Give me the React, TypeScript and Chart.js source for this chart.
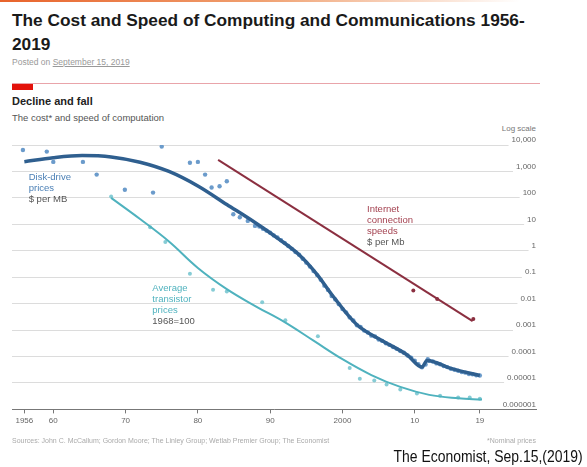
import React, { useEffect, useRef } from "react";
import { Chart, registerables } from "chart.js";

Chart.register(...registerables);

// ---------- data (y values as powers of ten) ----------
const tickYears = [1956, 1960, 1970, 1980, 1990, 2000, 2010, 2019];
const tickYearLabels = ["1956", "60", "70", "80", "90", "2000", "10", "19"];

const logTickValues = [1e-6, 1e-5, 1e-4, 1e-3, 1e-2, 1e-1, 1, 10, 100, 1000, 10000];
const logTickLabels = ["0.000001", "0.00001", "0.0001", "0.001", "0.01", "0.1", "1", "10", "100", "1,000", "10,000"];

// Disk-drive prices, $ per MB — fitted curve [year, log10 value]
const diskFit: [number, number][] = [
  [1956, 3.37], [1960, 3.52], [1964, 3.6], [1968, 3.55], [1972, 3.35], [1976, 3.0],
  [1980, 2.45], [1984, 1.75], [1988, 1.05], [1991, 0.48], [1994, -0.15], [1996.5, -0.9],
  [1998.7, -1.72], [2002, -2.8], [2005.5, -3.4], [2009, -3.95], [2011, -4.4],
  [2011.7, -4.15], [2015, -4.45], [2019, -4.72],
];

// Disk-drive prices — observations [year, log10 value]
const diskObs: [number, number][] = [
  [1955.8, 3.81], [1959.1, 3.75], [1960, 3.36], [1964.1, 3.36], [1966, 2.88], [1969.9, 2.31],
  [1973.8, 2.2], [1975, 3.94], [1978.9, 3.33], [1980, 3.36], [1981, 2.88], [1981.9, 2.39],
  [1983, 2.44], [1984, 2.63], [1984.9, 1.38], [1985.8, 1.27], [1986.9, 1.13], [1987.9, 0.94],
  [1988.5, 0.92], [1989, 0.83], [1989.5, 0.76], [1990, 0.68], [1990.5, 0.58], [1991, 0.5],
  [1991.5, 0.4], [1992, 0.3], [1992.5, 0.18], [1993, 0.07], [1993.5, -0.05], [1994, -0.15],
  [1994.5, -0.3], [1995, -0.45], [1995.5, -0.6], [1996, -0.77], [1996.5, -0.92], [1997, -1.1],
  [1997.5, -1.32], [1998, -1.48], [1998.5, -1.71], [1999, -1.84], [1999.5, -2.02], [2000, -2.2],
  [2000.5, -2.33], [2001, -2.52], [2001.5, -2.64], [2002, -2.82], [2002.5, -2.88], [2003, -3.02],
  [2003.5, -3.09], [2004, -3.21], [2004.5, -3.24], [2005, -3.36], [2005.5, -3.41], [2006, -3.5],
  [2006.5, -3.56], [2007, -3.64], [2007.5, -3.71], [2008, -3.79], [2008.5, -3.86], [2009, -3.96],
  [2009.5, -4.04], [2010, -4.16], [2010.5, -4.29], [2011, -4.41], [2011.5, -4.3], [2011.8, -4.1],
  [2012, -4.16], [2012.5, -4.19], [2013, -4.26], [2013.5, -4.29], [2014, -4.36], [2014.5, -4.4],
  [2015, -4.46], [2015.5, -4.5], [2016, -4.54], [2016.5, -4.59], [2017, -4.61], [2017.5, -4.66],
  [2018, -4.67], [2018.5, -4.71], [2019, -4.72],
];

// Average transistor prices, 1968=100 — fitted curve
const transistorFit: [number, number][] = [
  [1968, 2.0], [1972, 1.2], [1976, 0.35], [1980, -0.65], [1984, -1.45], [1988, -2.1],
  [1992, -2.7], [1996, -3.4], [2000, -4.1], [2004, -4.7], [2008, -5.15], [2012, -5.45],
  [2016, -5.58], [2019.3, -5.63],
];

// Average transistor prices — observations
const transistorObs: [number, number][] = [
  [1968, 2.05], [1973.4, 0.89], [1975.5, 0.33], [1978.9, -0.87], [1982.1, -1.47], [1984, -1.54],
  [1988.9, -1.95], [1992.1, -2.63], [1996.6, -3.23], [2001, -4.43], [2002.4, -4.84],
  [2004.4, -4.91], [2006.1, -5.06], [2008, -5.25], [2010.3, -5.4], [2013.5, -5.48],
  [2016, -5.55], [2017.6, -5.55], [2019, -5.6],
];

// Internet connection speeds, $ per Mb — fitted line and observations
const internetFit: [number, number][] = [[1982.8, 3.44], [2018, -2.66]];
const internetObs: [number, number][] = [[2009.8, -1.5], [2013.1, -1.82], [2018.1, -2.58]];

// ---------- styles ----------
const FONT = '"Liberation Sans", Arial, sans-serif';
const DISK_LINE = "#2f5f8f";
const DISK_DOT = "#6b9bcb";
const TRANS_LINE = "#4fb2be";
const TRANS_DOT = "#86ccd5";
const NET_LINE = "#8b2f40";

const seriesLabels = [
  { year: 1956.6, exp: 2.76, lines: ["Disk-drive", "prices", "$ per MB"], colors: ["#4a7fb5", "#4a7fb5", "#555"] },
  { year: 2003.4, exp: 1.57, lines: ["Internet", "connection", "speeds", "$ per Mb"], colors: ["#a3404f", "#a3404f", "#a3404f", "#555"] },
  { year: 1973.7, exp: -1.43, lines: ["Average", "transistor", "prices", "1968=100"], colors: [TRANS_LINE, TRANS_LINE, TRANS_LINE, "#555"] },
];

const toPts = (arr: [number, number][]) => arr.map(([x, e]) => ({ x, y: Math.pow(10, e) }));

const labelPlugin = {
  id: "seriesLabels",
  afterDatasetsDraw(chart: any) {
    const { ctx, scales } = chart;
    const xs = scales.x;
    const ys = scales.y;
    ctx.save();
    ctx.font = `9.5px ${FONT}`;
    ctx.textAlign = "left";
    ctx.textBaseline = "middle";
    seriesLabels.forEach((l) => {
      const px = xs.getPixelForValue(l.year);
      const py = ys.getPixelForValue(Math.pow(10, l.exp));
      l.lines.forEach((t, i) => {
        ctx.fillStyle = l.colors[i];
        ctx.fillText(t, px, py + i * 11);
      });
    });
    ctx.restore();
  },
};

export default function App() {
  const canvasRef = useRef<HTMLCanvasElement | null>(null);

  useEffect(() => {
    if (!canvasRef.current) return;
    const chart = new Chart(canvasRef.current, {
      type: "scatter",
      data: {
        datasets: [
          { data: toPts(internetFit), showLine: true, borderColor: NET_LINE, borderWidth: 2, pointRadius: 0, order: 1 },
          { data: toPts(internetObs), pointRadius: 2, backgroundColor: NET_LINE, borderWidth: 0, order: 1 },
          { data: toPts(diskFit), showLine: true, borderColor: DISK_LINE, borderWidth: 3.5, pointRadius: 0, cubicInterpolationMode: "monotone", order: 2 },
          { data: toPts(diskObs), pointRadius: 2.2, backgroundColor: DISK_DOT, borderWidth: 0, order: 3 },
          { data: toPts(transistorFit), showLine: true, borderColor: TRANS_LINE, borderWidth: 2, pointRadius: 0, tension: 0.4, order: 4 },
          { data: toPts(transistorObs), pointRadius: 2, backgroundColor: TRANS_DOT, borderWidth: 0, order: 5 },
        ] as any,
      },
      options: {
        animation: false,
        responsive: false,
        layout: { padding: { left: 12, right: 51, top: 145, bottom: 38 } },
        plugins: { legend: { display: false }, tooltip: { enabled: false } },
        scales: {
          x: {
            type: "linear",
            min: 1954.29,
            max: 2026.77,
            afterBuildTicks: (scale: any) => {
              scale.ticks = tickYears.map((v) => ({ value: v }));
            },
            ticks: {
              autoSkip: false,
              maxRotation: 0,
              padding: 3,
              color: "#666",
              font: { size: 8, family: FONT },
              callback: (value: any) => {
                const i = tickYears.indexOf(Number(value));
                return i >= 0 ? tickYearLabels[i] : "";
              },
            },
            grid: { drawOnChartArea: false, drawTicks: true, tickLength: 4, color: "#777" },
            border: { display: true, color: "#777", width: 1, z: 1 },
          },
          y: {
            type: "logarithmic",
            position: "right",
            min: 1e-6,
            max: 1e4,
            afterBuildTicks: (scale: any) => {
              scale.ticks = logTickValues.map((v) => ({ value: v }));
            },
            ticks: {
              mirror: true,
              padding: 0,
              labelOffset: -5,
              color: "#666",
              font: { size: 8, family: FONT },
              showLabelBackdrop: true,
              backdropColor: "#ffffff",
              backdropPadding: { top: 0, bottom: 4, left: 3, right: 0 },
              callback: (value: any) => {
                const i = logTickValues.findIndex((v) => Math.abs(Math.log10(v) - Math.log10(Number(value))) < 1e-6);
                return i >= 0 ? logTickLabels[i] : "";
              },
            },
            grid: { color: "#dcdcdc", lineWidth: 1, drawTicks: false },
            border: { display: false },
          },
        },
      },
      plugins: [labelPlugin],
    } as any);
    return () => chart.destroy();
  }, []);

  const abs = (s: React.CSSProperties): React.CSSProperties => ({ position: "absolute", margin: 0, whiteSpace: "nowrap", ...s });

  return (
    <div style={{ position: "absolute", left: 0, top: 0, width: 587, height: 467, background: "#fff", fontFamily: FONT, overflow: "hidden" }}>
      <div style={abs({ left: 0, top: 0, width: 520, height: 2, background: "linear-gradient(to right, #e8632b, #f0a070 50%, rgba(255,255,255,0))" })} />
      <div style={abs({ left: 12, top: 8, fontSize: 17.3, fontWeight: 700, lineHeight: "24px", color: "#1a1a1a" })}>
        The Cost and Speed of Computing and Communications 1956-
        <br />
        2019
      </div>
      <div style={abs({ left: 12, top: 56, fontSize: 8.5, color: "#999", lineHeight: "12px" })}>
        Posted on <span style={{ textDecoration: "underline" }}>September 15, 2019</span>
      </div>
      <div style={abs({ left: 12, top: 83, width: 528, height: 1, background: "#e9a4aa" })} />
      <div style={abs({ left: 12, top: 84, width: 21, height: 6, background: "#e3120b" })} />
      <div style={abs({ left: 12, top: 94, fontSize: 11, fontWeight: 700, color: "#222", lineHeight: "14px" })}>Decline and fall</div>
      <div style={abs({ left: 12, top: 112, fontSize: 9.5, color: "#555", lineHeight: "12px" })}>The cost* and speed of computation</div>
      <div style={abs({ right: 51, top: 124, fontSize: 8, color: "#777", lineHeight: "10px" })}>Log scale</div>
      <canvas ref={canvasRef} width={587} height={467} style={{ position: "absolute", left: 0, top: 0 }} />
      <div style={abs({ left: 12, top: 436, fontSize: 7, color: "#aaa", lineHeight: "9px" })}>
        Sources: John C. McCallum; Gordon Moore; The Linley Group; Wetlab Premier Group; The Economist
      </div>
      <div style={abs({ right: 51, top: 436, fontSize: 7, color: "#aaa", lineHeight: "9px" })}>*Nominal prices</div>
      <div style={abs({ right: 4, top: 447, fontSize: 17, color: "#111", lineHeight: "20px", transform: "scaleX(0.82)", transformOrigin: "right center" })}>
        The Economist, Sep.15,(2019)
      </div>
    </div>
  );
}
